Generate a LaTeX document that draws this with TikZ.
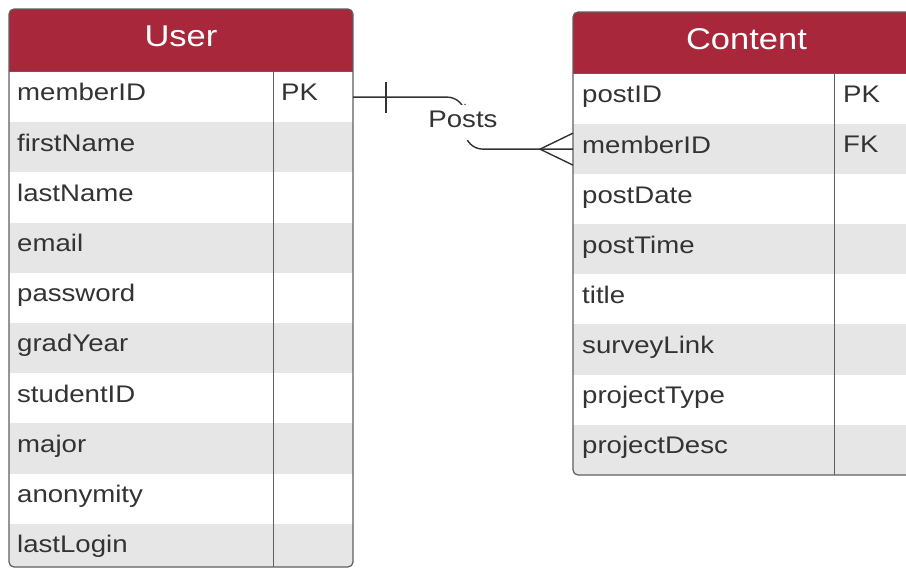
\documentclass[tikz,border=0pt]{standalone}
\usepackage{fontspec}
\setmainfont[FakeStretch=1.15]{Liberation Sans}
\usetikzlibrary{calc}
\definecolor{hdr}{RGB}{168,39,58}
\definecolor{rowgray}{RGB}{230,230,230}
\definecolor{framec}{RGB}{95,95,95}
\definecolor{ink}{RGB}{51,51,51}
\tikzset{
  field/.style={anchor=base west, inner sep=0pt, text=ink, font=\fontsize{24}{28}\selectfont},
  ttl/.style={anchor=base, inner sep=0pt, text=white, font=\fontsize{30}{34}\selectfont},
  rowbox/.style={anchor=north west, inner sep=0pt, outer sep=0pt, draw=none},
  tframe/.style={draw=framec, line width=1.2pt, rounded corners=5pt},
  tline/.style={draw=framec, line width=1pt},
  conn/.style={draw=ink, line width=1.4pt},
}
\begin{document}
\begin{tikzpicture}[x=1pt,y=-1pt]
\useasboundingbox (0,0) rectangle (906,569);
\clip (0,0) rectangle (906,569);

% ---------------- User table ----------------
\begin{scope}
  \clip[rounded corners=5pt] (9,9) rectangle (353,567);
  \fill[hdr] (9,9) rectangle (353,72);
  \foreach \t/\c [count=\i] in {memberID/white,firstName/rowgray,lastName/white,email/rowgray,password/white,gradYear/rowgray,studentID/white,major/rowgray,anonymity/white,lastLogin/rowgray} {
    \pgfmathsetmacro\yy{72+50.2*(\i-1)}
    \node[rowbox, fill=\c, minimum width=344pt, minimum height=50.2pt] (ur\i) at (9,\yy) {};
    \node[field] (ut\i) at (17,\yy+29) {\t};
  }
\end{scope}
\draw[tframe] (9,9) rectangle (353,567);
\draw[tline] (9,72) -- (353,72);
\draw[tline] (273,72) -- (273,567);
\node[ttl] (usertitle) at (181,47) {User};
\node[field] (upk) at (281,101) {PK};

% ---------------- Content table ----------------
\begin{scope}
  \clip[rounded corners=5pt] (573,12) rectangle (920,475);
  \fill[hdr] (573,12) rectangle (920,74);
  \foreach \t/\c [count=\i] in {postID/white,memberID/rowgray,postDate/white,postTime/rowgray,title/white,surveyLink/rowgray,projectType/white,projectDesc/rowgray} {
    \pgfmathsetmacro\yy{74+50.1*(\i-1)}
    \node[rowbox, fill=\c, minimum width=347pt, minimum height=50.1pt] (cr\i) at (573,\yy) {};
    \node[field] (ct\i) at (582,\yy+29) {\t};
  }
\end{scope}
\draw[tframe] (573,12) rectangle (920,475);
\draw[tline] (573,74) -- (920,74);
\draw[tline] (834,74) -- (834,475);
\node[ttl] (contenttitle) at (746.5,50) {Content};
\node[field] (cpk) at (843,103) {PK};
\node[field] (cfk) at (843,153) {FK};

% ---------------- Relationship ----------------
\coordinate (mid) at (465,122);
\draw[conn, rounded corners=18pt] (ur1.east) -| (mid) |- (cr2.west);
\draw[conn, line width=2.2pt] ($(ur1.east)+(33,-15)$) -- ($(ur1.east)+(33,16)$);
\draw[conn] ($(cr2.west)+(-33,0)$) -- ($(cr2.west)+(0,-16)$);
\draw[conn] ($(cr2.west)+(-33,0)$) -- ($(cr2.west)+(0,16)$);
\node[anchor=base, fill=white, inner xsep=2pt, inner ysep=0pt, text height=23pt, text depth=12pt, text=ink, font=\fontsize{24}{28}\selectfont] (posts) at (463,128) {Posts};
\end{tikzpicture}
\end{document}
